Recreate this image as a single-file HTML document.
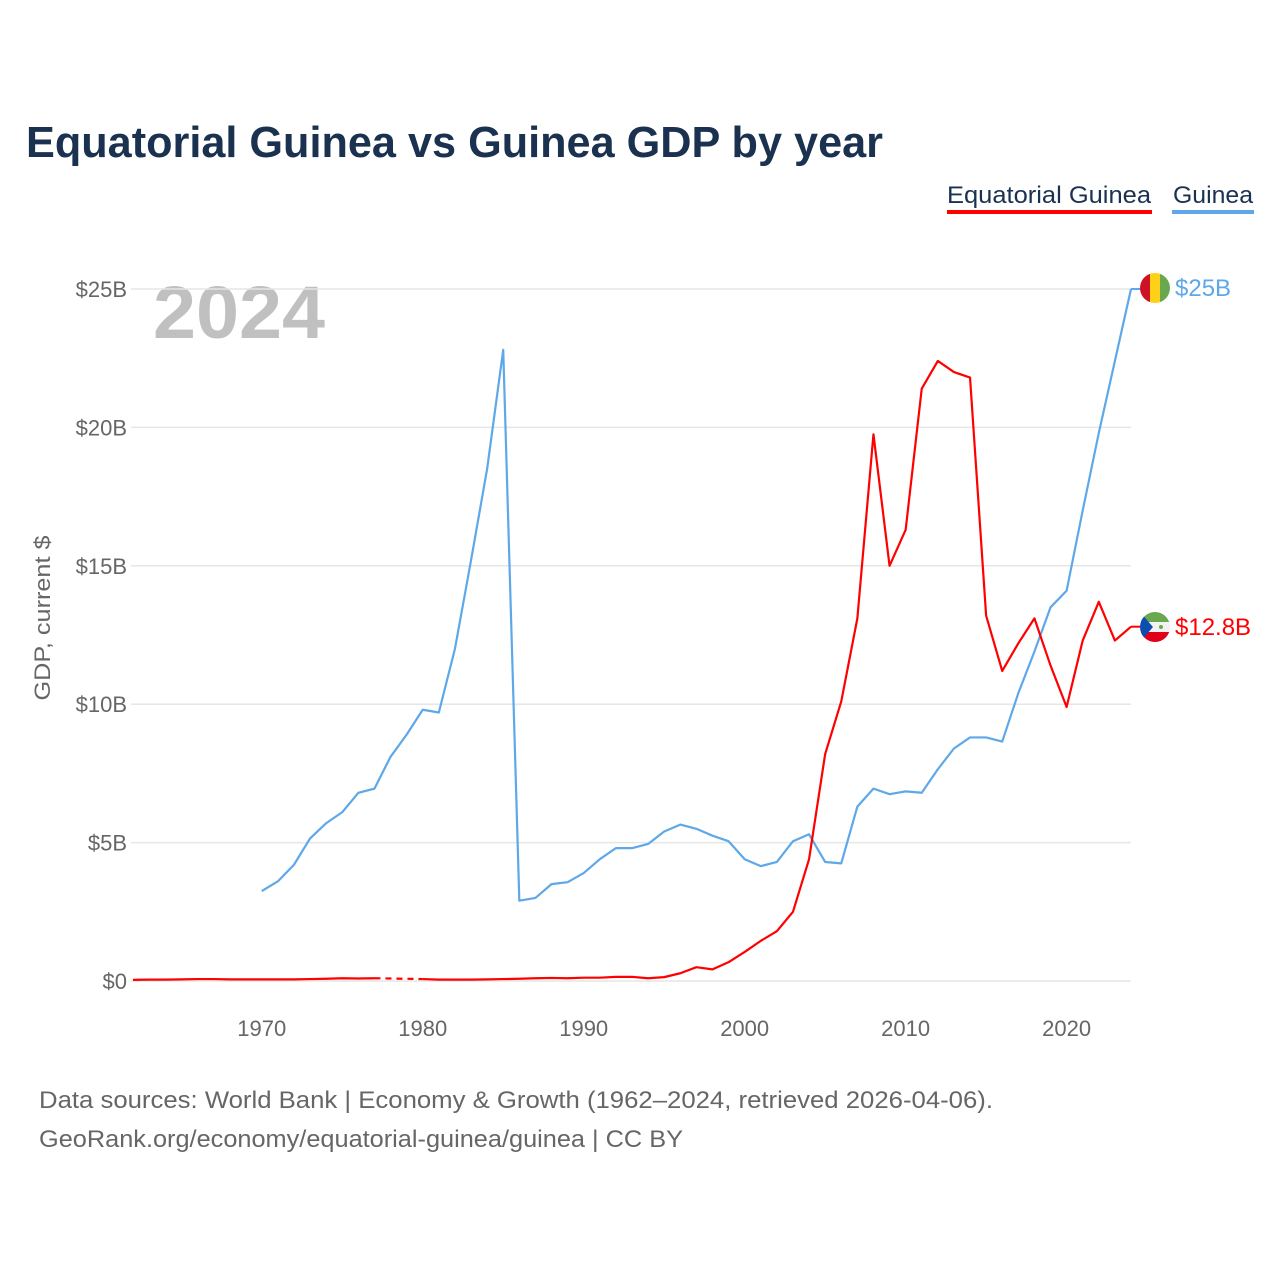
<!DOCTYPE html>
<html><head><meta charset="utf-8">
<style>
body{margin:0;background:#fff;font-family:"Liberation Sans",sans-serif;}
svg{display:block}
</style></head>
<body>
<svg id="chart" width="1280" height="1280" viewBox="0 0 1280 1280">
<text x="26" y="157" font-size="44" font-weight="bold" fill="#1a3150" textLength="857" lengthAdjust="spacingAndGlyphs">Equatorial Guinea vs Guinea GDP by year</text>
<g>
<g>
<text x="947" y="203" font-size="24" fill="#1a3150" textLength="204" lengthAdjust="spacingAndGlyphs">Equatorial Guinea</text>
<rect x="947" y="210" width="205" height="4" fill="#ff0000"/>
</g>
<g>
<text x="1173" y="203" font-size="24" fill="#1a3150" textLength="80" lengthAdjust="spacingAndGlyphs">Guinea</text>
<rect x="1172" y="210" width="82" height="4" fill="#5ea8ea"/>
</g>
</g>
<text x="153" y="338" font-size="74" font-weight="bold" fill="#c0c0c0" textLength="172" lengthAdjust="spacingAndGlyphs">2024</text>
<g id="grid"></g>
<g id="yticks"></g>
<g id="xticks"></g>
<text transform="translate(50,618) rotate(-90)" text-anchor="middle" font-size="22" fill="#666" textLength="165" lengthAdjust="spacingAndGlyphs">GDP, current $</text>
<g id="series"></g>
<g>
<clipPath id="c1"><circle cx="1155" cy="288" r="15"/></clipPath>
<g clip-path="url(#c1)">
<rect x="1140" y="273" width="10" height="30" fill="#ce1126"/>
<rect x="1150" y="273" width="10" height="30" fill="#fcd116"/>
<rect x="1160" y="273" width="10" height="30" fill="#6aa84f"/>
</g>
<text x="1175" y="296" font-size="24" fill="#5ea8ea">$25B</text>
</g>
<g>
<clipPath id="c2"><circle cx="1155" cy="627" r="15"/></clipPath>
<g clip-path="url(#c2)">
<rect x="1140" y="612" width="30" height="10" fill="#6aa84f"/>
<rect x="1140" y="622" width="30" height="10" fill="#f2f2f2"/>
<rect x="1140" y="632" width="30" height="10" fill="#e0001a"/>
<polygon points="1140,612 1153,627 1140,642" fill="#0a4fb0"/>
<circle cx="1161" cy="627" r="2" fill="#6aa84f"/>
</g>
<text x="1175" y="635" font-size="24" fill="#ff0000">$12.8B</text>
</g>
<text x="39" y="1108" font-size="24" fill="#666" textLength="954" lengthAdjust="spacingAndGlyphs">Data sources: World Bank | Economy &amp; Growth (1962–2024, retrieved 2026-04-06).</text>
<text x="39" y="1147" font-size="24" fill="#666" textLength="644" lengthAdjust="spacingAndGlyphs">GeoRank.org/economy/equatorial-guinea/guinea | CC BY</text>
</svg>
<script>
const years = [];
for (let y = 1962; y <= 2024; y++) years.push(y);
const eqGuinea = [0.04,0.05,0.05,0.06,0.07,0.07,0.06,0.06,0.06,0.06,0.06,0.07,0.08,0.1,0.09,0.1,null,null,0.07,0.05,0.05,0.05,0.06,0.07,0.08,0.1,0.11,0.1,0.12,0.12,0.15,0.15,0.1,0.14,0.28,0.5,0.42,0.68,1.05,1.45,1.8,2.5,4.4,8.2,10.1,13.1,19.75,15.0,16.3,21.4,22.4,22.0,21.8,13.2,11.2,12.2,13.1,11.4,9.9,12.3,13.7,12.3,12.8];
const guinea = [null,null,null,null,null,null,null,null,3.25,3.6,4.2,5.15,5.7,6.1,6.8,6.95,8.1,8.9,9.8,9.7,12.0,15.2,18.5,22.8,2.9,3.0,3.5,3.57,3.9,4.4,4.8,4.8,4.95,5.4,5.65,5.5,5.25,5.05,4.4,4.15,4.3,5.05,5.3,4.3,4.25,6.3,6.95,6.75,6.85,6.8,7.65,8.4,8.8,8.8,8.65,10.4,11.9,13.5,14.1,17.0,19.8,22.4,25.0];
const yTickValues = [0,5,10,15,20,25];
const yTickLabels = ["$0","$5B","$10B","$15B","$20B","$25B"];
const xTickValues = [1970,1980,1990,2000,2010,2020];

const NS = "http://www.w3.org/2000/svg";
const X = yr => 133 + (yr - 1962) * (1131 - 133) / 62;
const Y = v => 981 - v * (981 - 289) / 25;
function mk(tag, attrs, parent) {
  const e = document.createElementNS(NS, tag);
  for (const k in attrs) e.setAttribute(k, attrs[k]);
  parent.appendChild(e); return e;
}
const grid = document.getElementById('grid'), yt = document.getElementById('yticks'), xt = document.getElementById('xticks'), ser = document.getElementById('series');
yTickValues.forEach((v, i) => {
  const l = mk('line', {x1:131, x2:1131, y1:Y(v), y2:Y(v), stroke:'#e6e6e6', 'stroke-width':1.5}, grid);
  
  
  const t = mk('text', {x:127, y:Y(v)+8, 'text-anchor':'end', 'font-size':22, fill:'#666'}, yt);
  t.textContent = yTickLabels[i];
  
  
});
xTickValues.forEach(v => {
  const t = mk('text', {x:X(v), y:1036, 'text-anchor':'middle', 'font-size':22, fill:'#666'}, xt);
  t.textContent = v;
  
  
});
function drawSeries(vals, color, name) {
  const g = mk('g', {}, ser);
  
  
  let seg = [], lastIdx = -1;
  const segs = [], gaps = [];
  vals.forEach((v, i) => {
    if (v == null) { if (seg.length) { segs.push(seg); seg = []; } return; }
    if (lastIdx >= 0 && i - lastIdx > 1) gaps.push([lastIdx, i]);
    seg.push([X(years[i]), Y(v)]); lastIdx = i;
  });
  if (seg.length) segs.push(seg);
  segs.forEach(s => {
    const p = mk('polyline', {points:s.map(q => q.join(',')).join(' '), fill:'none', stroke:color, 'stroke-width':2.2, 'stroke-linejoin':'round'}, g);
    
    
  });
  gaps.forEach(([a, b]) => {
    const d = mk('line', {x1:X(years[a]), y1:Y(vals[a]), x2:X(years[b]), y2:Y(vals[b]), stroke:color, 'stroke-width':2.2, 'stroke-dasharray':'6,5'}, g);
    
    
  });
  const lv = vals[vals.length - 1];
  const st = mk('line', {x1:X(2024), y1:Y(lv), x2:1141, y2:Y(lv), stroke:color, 'stroke-width':2}, g);
  
  
}
drawSeries(guinea, '#5ea8ea', 'guinea-series');
drawSeries(eqGuinea, '#ff0000', 'equatorial-guinea-series');
</script>
</body></html>
